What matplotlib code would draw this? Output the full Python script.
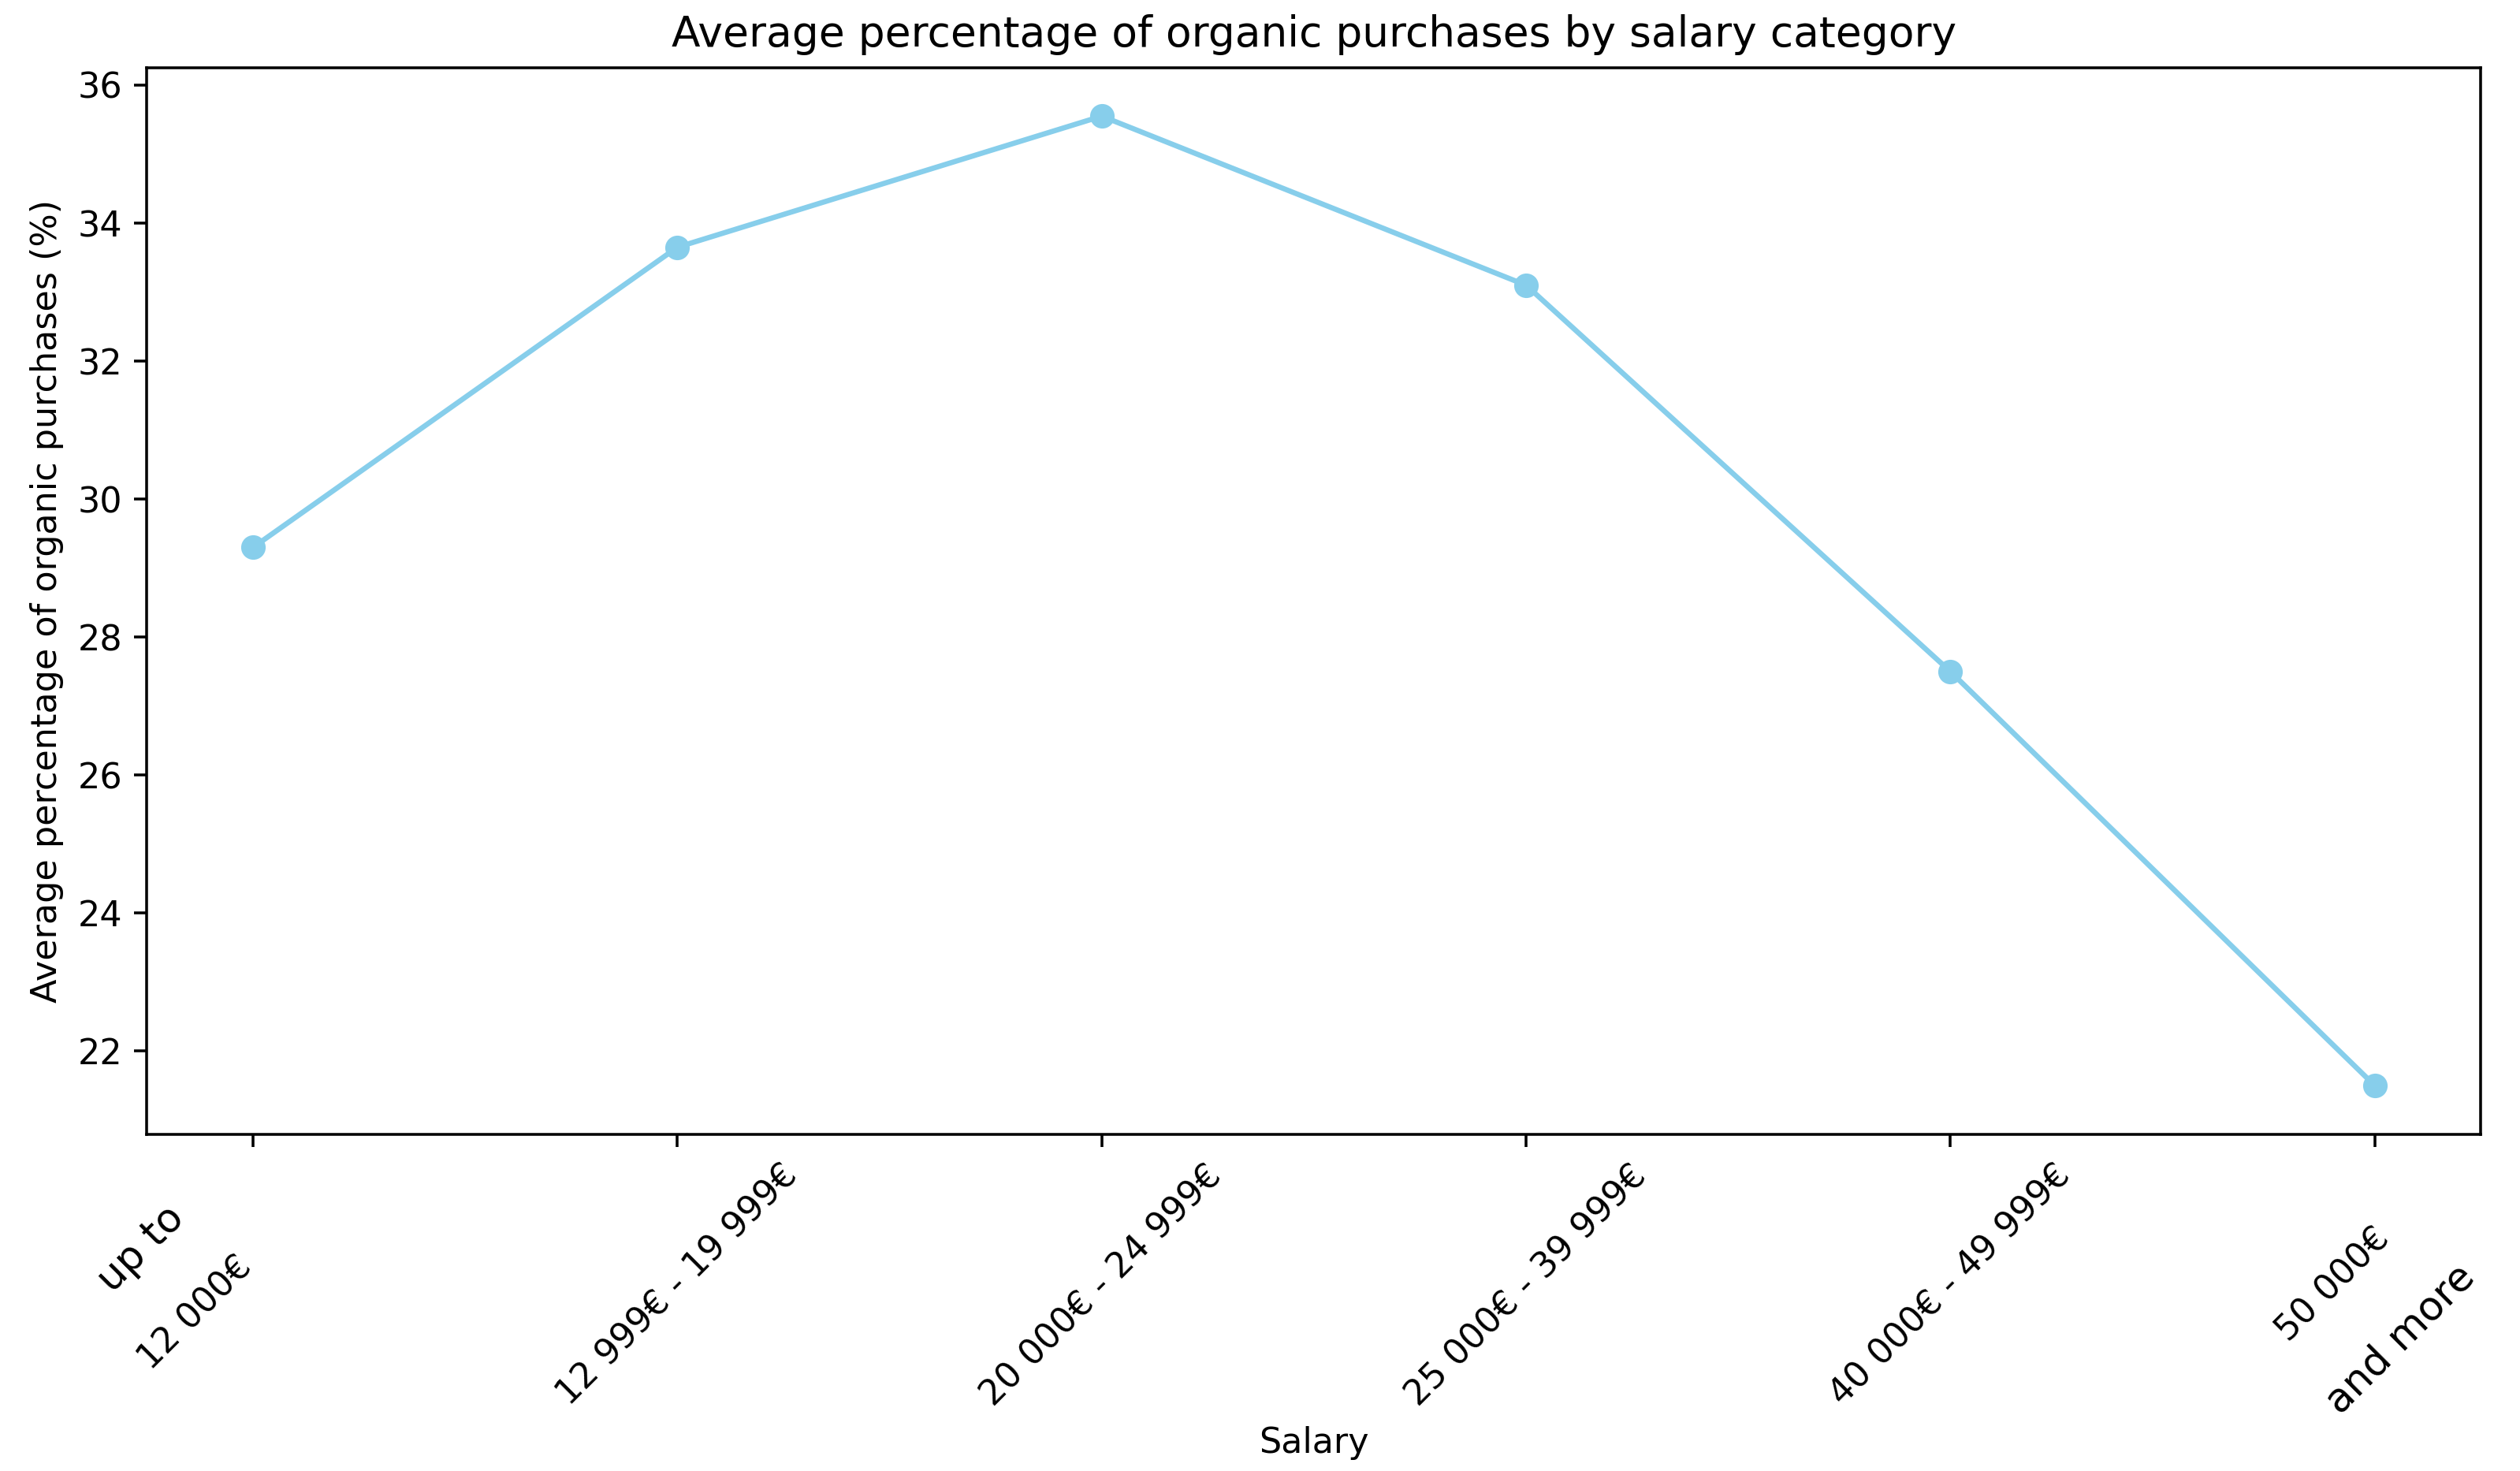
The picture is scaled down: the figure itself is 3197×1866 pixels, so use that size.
from matplotlib import pyplot as plt

salary = ["up to 12 000€", "12 999€ - 19 999€", "20 000€ - 24 999€",
          "25 000€ - 39 999€", "40 000€ - 49 999€", "50 000€ and more"]
organic_pct = [29.3, 33.65, 35.55, 33.1, 27.5, 21.5]

# first and last labels are split in two pieces, drawn by hand below
tick_labels = [""] + salary[1:-1] + [""]
# (tick index, text, dx pt, dy pt, fontsize)
split_labels = [(0, "up to", -31.8, -32.7, 11.5),
                (0, "12 000€", -16.5, -51.0, 10),
                (5, "50 000€", -12.0, -43.0, 10),
                (5, "and more", 7.4, -58.5, 11.5)]

fig = plt.figure(figsize=(3197 / 320, 1866 / 320), dpi=320)
ax = fig.add_axes([0.0583, 0.229, 0.9262, 0.725])

x = range(len(salary))
ax.plot(x, organic_pct, marker='o', color='skyblue', linewidth=1.5, markersize=6)
ax.set_xticks(x)
ax.set_xticklabels(tick_labels, rotation=45)
ax.set_title("Average percentage of organic purchases by salary category")
ax.set_xlabel("Salary")
ax.set_ylabel("Average percentage of organic purchases (%)")

for i, txt, dx, dy, fs in split_labels:
    ax.annotate(txt, xy=(i, 0), xycoords=ax.get_xaxis_transform(),
                xytext=(dx, dy), textcoords='offset points',
                rotation=45, ha='center', va='center', fontsize=fs,
                annotation_clip=False)

fig.savefig("out.png", dpi=320)
